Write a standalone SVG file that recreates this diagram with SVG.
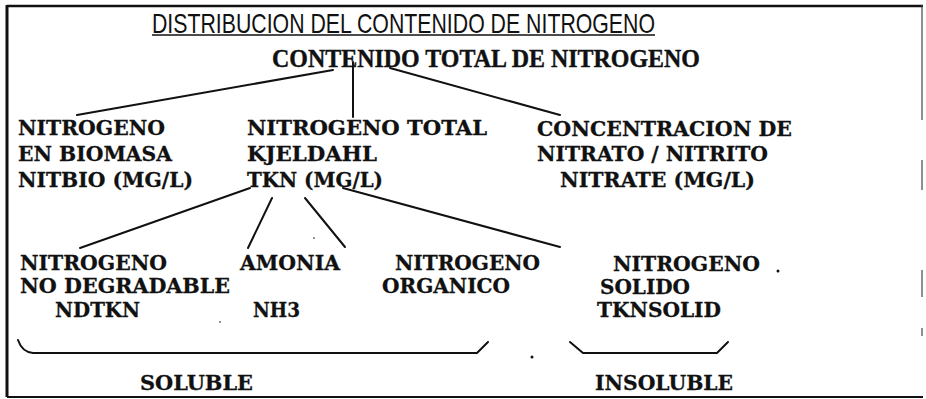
<svg xmlns="http://www.w3.org/2000/svg" width="926" height="399" viewBox="0 0 926 399">
<style>
.t{font-family:"DejaVu Serif","Liberation Serif",serif;font-weight:bold;font-size:21px;fill:#111;stroke:#111;stroke-width:0.3}
.h{font-family:"Liberation Serif","Times New Roman",serif;font-weight:bold;font-size:25px;fill:#111;stroke:#111;stroke-width:0.4}
.ttl{font-family:"Liberation Sans",Arial,sans-serif;font-size:28px;fill:#111}
.c{stroke:#111;stroke-width:2;fill:none;stroke-linecap:round}
.b{stroke:#111;fill:none}
</style>
<rect width="926" height="399" fill="#fff"/>
<g id="frame">
<line class="b" x1="7" y1="6" x2="923" y2="6" stroke-width="2.5"/>
<line class="b" x1="7" y1="5" x2="7" y2="397" stroke-width="3"/>
<line class="b" x1="7" y1="397" x2="923" y2="397" stroke-width="2"/>
<g stroke="#444" stroke-width="1.2">
<line x1="922" y1="5" x2="922" y2="120"/>
<line x1="922" y1="160" x2="922" y2="190"/>
<line x1="922" y1="270" x2="922" y2="297"/>
<line x1="922" y1="328" x2="922" y2="336"/>
</g>
</g>
<g id="title">
<text class="ttl" x="152" y="33" textLength="503" lengthAdjust="spacingAndGlyphs">DISTRIBUCION DEL CONTENIDO DE NITROGENO</text>
<line class="b" x1="152" y1="35" x2="655" y2="35" stroke-width="1.5"/>
</g>
<g id="root"><text class="h" x="272" y="67" textLength="428" lengthAdjust="spacingAndGlyphs">CONTENIDO TOTAL DE NITROGENO</text></g>
<g id="nitbio">
<text class="t" x="18" y="135" textLength="147" lengthAdjust="spacingAndGlyphs">NITROGENO</text>
<text class="t" x="18" y="161" textLength="154" lengthAdjust="spacingAndGlyphs">EN BIOMASA</text>
<text class="t" x="18" y="187" textLength="175" lengthAdjust="spacingAndGlyphs">NITBIO (MG/L)</text>
</g>
<g id="tkn">
<text class="t" x="247" y="135" textLength="240" lengthAdjust="spacingAndGlyphs">NITROGENO TOTAL</text>
<text class="t" x="247" y="161" textLength="130" lengthAdjust="spacingAndGlyphs">KJELDAHL</text>
<text class="t" x="247" y="187" textLength="136" lengthAdjust="spacingAndGlyphs">TKN (MG/L)</text>
</g>
<g id="nitrate">
<text class="t" x="537" y="136" textLength="255" lengthAdjust="spacingAndGlyphs">CONCENTRACION DE</text>
<text class="t" x="537" y="161" textLength="231" lengthAdjust="spacingAndGlyphs">NITRATO / NITRITO</text>
<text class="t" x="560" y="187" textLength="195" lengthAdjust="spacingAndGlyphs">NITRATE (MG/L)</text>
</g>
<g id="ndtkn">
<text class="t" x="20" y="270" textLength="147" lengthAdjust="spacingAndGlyphs">NITROGENO</text>
<text class="t" x="20" y="293" textLength="210" lengthAdjust="spacingAndGlyphs">NO DEGRADABLE</text>
<text class="t" x="55" y="317" textLength="85" lengthAdjust="spacingAndGlyphs">NDTKN</text>
</g>
<g id="nh3">
<text class="t" x="240" y="270" textLength="100" lengthAdjust="spacingAndGlyphs">AMONIA</text>
<text class="t" x="253" y="317" textLength="47" lengthAdjust="spacingAndGlyphs">NH3</text>
</g>
<g id="organico">
<text class="t" x="395" y="270" textLength="145" lengthAdjust="spacingAndGlyphs">NITROGENO</text>
<text class="t" x="382" y="293" textLength="128" lengthAdjust="spacingAndGlyphs">ORGANICO</text>
</g>
<g id="tknsolid">
<text class="t" x="613" y="271" textLength="147" lengthAdjust="spacingAndGlyphs">NITROGENO</text>
<text class="t" x="600" y="294" textLength="90" lengthAdjust="spacingAndGlyphs">SOLIDO</text>
<text class="t" x="597" y="317" textLength="124" lengthAdjust="spacingAndGlyphs">TKNSOLID</text>
</g>
<g id="soluble"><text class="t" x="140" y="390" textLength="113" lengthAdjust="spacingAndGlyphs">SOLUBLE</text></g>
<g id="insoluble"><text class="t" x="595" y="390" textLength="138" lengthAdjust="spacingAndGlyphs">INSOLUBLE</text></g>
<g id="connectors">
<path class="c" d="M77,115 L333,70"/>
<path class="c" d="M353,62 L353,117" stroke-width="1.3"/>
<path class="c" d="M390,68 L560,115"/>
<path class="c" d="M250,188 L80,248"/>
<path class="c" d="M272,198 L248,248"/>
<path class="c" d="M305,198 L345,247"/>
<path class="c" d="M343,188 L560,247"/>
<path class="c" d="M18,340 Q22,352 33,353 L477,353 L488,342"/>
<path class="c" d="M570,342 L583,353 L717,353 L728,342"/>
</g>
<g id="specks" fill="#111">
<circle cx="314" cy="238" r="0.8"/>
<circle cx="220" cy="322" r="0.8"/>
<circle cx="532" cy="357" r="1.5"/>
<circle cx="778" cy="271" r="1.5"/>
</g>
</svg>
